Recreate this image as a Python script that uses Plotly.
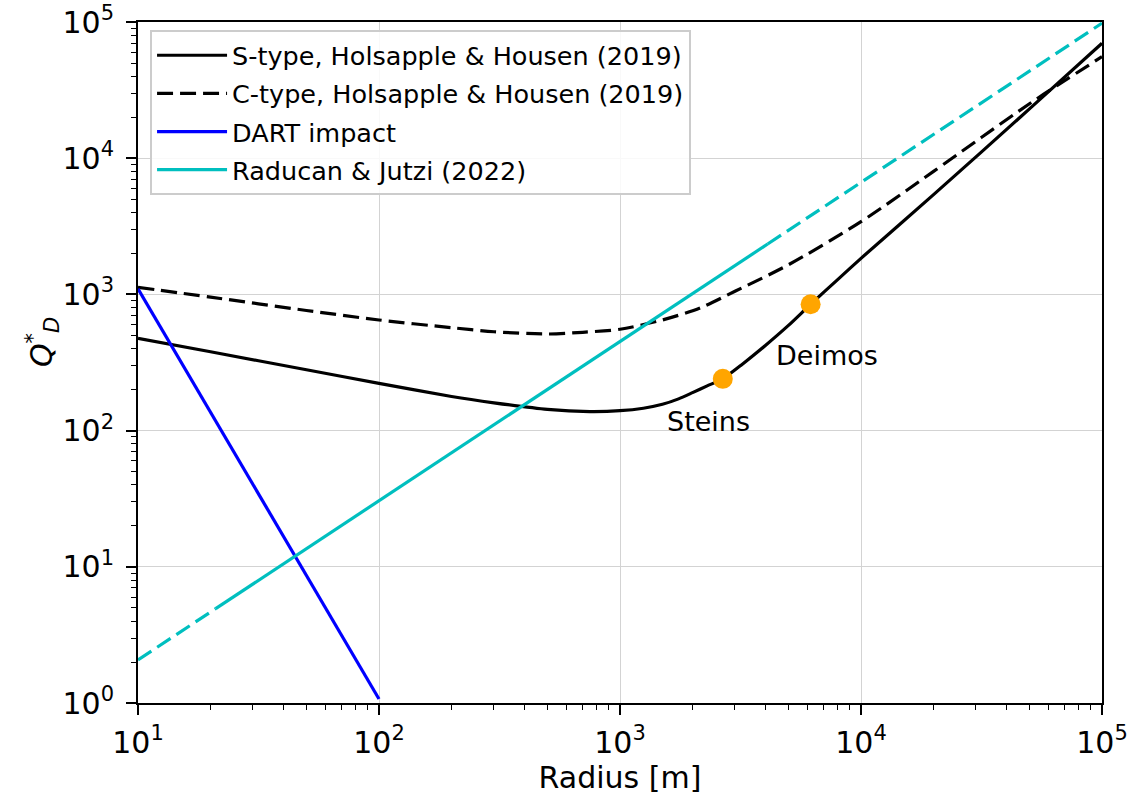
import numpy as np
import plotly.graph_objects as go

# S-type, Holsapple & Housen (2019)
s_R = [10, 20, 50, 100, 200, 300, 500, 750, 1000, 1250, 1500, 1750, 2000, 2300, 2670, 3200, 4000, 5000,
       6180, 8000, 10000, 20000, 50000, 100000]
s_Q = [476, 379, 280, 222, 178, 160, 143, 138, 140, 146, 156, 171, 190, 213, 240, 305, 420, 592,
       846, 1285, 1840, 5400, 23000, 69800]

# C-type, Holsapple & Housen (2019)
c_R = [10, 20, 50, 100, 200, 300, 500, 700, 1000, 1500, 2150, 3000, 5000, 10000, 20000, 50000, 100000]
c_Q = [1128, 955, 762, 649, 570, 532, 512, 527, 555, 649, 795, 1055, 1650, 3420, 8000, 25100, 55600]

# DART impact
dart_R = [10, 100]
dart_Q = [1100, 1.07]

# Raducan & Jutzi (2022): dashed / solid / dashed segments
rj_R = [10, 21, 4100, 100000]
rj_Q = [2.07, 4.93, 2345, 98000]

# Bodies
body_names = ["Steins", "Deimos"]
body_R = [2670, 6180]
body_Q = [240, 846]
label_R = [2340, 7230]
label_Q = [117.5, 353]

x_tickvals = [10, 100, 1000, 10000, 100000]
x_ticktext = ["10<sup>1</sup>", "10<sup>2</sup>", "10<sup>3</sup>", "10<sup>4</sup>", "10<sup>5</sup>"]
y_tickvals = [1, 10, 100, 1000, 10000, 100000]
y_ticktext = ["10<sup>0</sup>", "10<sup>1</sup>", "10<sup>2</sup>", "10<sup>3</sup>", "10<sup>4</sup>", "10<sup>5</sup>"]

FONT = "DejaVu Sans"
CYAN = "#00BFBF"
LW = 3.2

fig = go.Figure()

fig.add_trace(go.Scatter(x=s_R, y=s_Q, mode="lines", name="S-type, Holsapple & Housen (2019)",
                         line=dict(color="black", width=LW, shape="spline", smoothing=0.6),
                         legendgroup="a"))
fig.add_trace(go.Scatter(x=c_R, y=c_Q, mode="lines", name="C-type, Holsapple & Housen (2019)",
                         line=dict(color="black", width=LW, dash="16px,7px", shape="spline", smoothing=0.8),
                         legendgroup="b"))
fig.add_trace(go.Scatter(x=dart_R, y=dart_Q, mode="lines", name="DART impact",
                         line=dict(color="#0000FF", width=LW), legendgroup="c"))
fig.add_trace(go.Scatter(x=rj_R[0:2], y=rj_Q[0:2], mode="lines", showlegend=False,
                         line=dict(color=CYAN, width=LW, dash="16px,7px"), legendgroup="d"))
fig.add_trace(go.Scatter(x=rj_R[1:3], y=rj_Q[1:3], mode="lines", name="Raducan & Jutzi (2022)",
                         line=dict(color=CYAN, width=LW), legendgroup="d"))
fig.add_trace(go.Scatter(x=rj_R[2:4], y=rj_Q[2:4], mode="lines", showlegend=False,
                         line=dict(color=CYAN, width=LW, dash="16px,7px"), legendgroup="d"))
fig.add_trace(go.Scatter(x=body_R, y=body_Q, mode="markers", showlegend=False,
                         marker=dict(color="#FFA500", size=20, line=dict(width=0))))

for name, xr, yq in zip(body_names, label_R, label_Q):
    fig.add_annotation(x=np.log10(xr), y=np.log10(yq), xref="x", yref="y", text=name,
                       showarrow=False, font=dict(family=FONT, size=27, color="black"))

fig.add_annotation(x=-0.124, y=0.53, xref="paper", yref="paper",
                   text="<i>Q</i><sup>*</sup><sub><i>D</i></sub>", textangle=-90,
                   showarrow=False, font=dict(family=FONT, size=30, color="black"))

axis_common = dict(
    type="log", showline=True, linecolor="black", linewidth=2, mirror=True,
    ticks="outside", ticklen=10, tickwidth=1.8, tickcolor="black",
    showgrid=True, gridcolor="#d3d3d3", gridwidth=1, zeroline=False,
    tickfont=dict(family=FONT, size=30, color="black"),
    tickmode="array", ticklabeloverflow="allow",
)

minor_x = [m * 10 ** k for k in range(1, 5) for m in range(2, 10)]
minor_y = [m * 10 ** k for k in range(0, 5) for m in range(2, 10)]

fig.update_xaxes(**axis_common, range=[1, 5], tickvals=x_tickvals, ticktext=x_ticktext,
                 minor=dict(tickmode="array", tickvals=minor_x, ticks="outside", ticklen=5,
                            tickwidth=1.3, tickcolor="black", showgrid=False),
                 title=dict(text="Radius [m]", font=dict(family=FONT, size=30, color="black"), standoff=6),
                 ticklabelstandoff=2)
fig.update_yaxes(**axis_common, range=[0, 5], tickvals=y_tickvals, ticktext=y_ticktext,
                 minor=dict(tickmode="array", tickvals=minor_y, ticks="outside", ticklen=5,
                            tickwidth=1.3, tickcolor="black", showgrid=False),
                 ticklabelstandoff=6)

fig.update_layout(
    width=1131, height=795,
    margin=dict(l=138, r=29, t=22, b=92, autoexpand=False),
    plot_bgcolor="white", paper_bgcolor="white",
    font=dict(family=FONT, size=25, color="black"),
    legend=dict(x=0.0125, y=0.988, xanchor="left", yanchor="top",
                bgcolor="rgba(255,255,255,0.85)", bordercolor="#cccccc", borderwidth=2,
                font=dict(family=FONT, size=25.5, color="black"),
                traceorder="grouped", tracegroupgap=2, itemwidth=70),
)

# remove the default 8px page margin so the full-size figure fits the window exactly
fig.write_html("out.html",
               config={"displayModeBar": False},
               post_script="document.body.style.margin='0px';document.body.style.overflow='hidden';")
